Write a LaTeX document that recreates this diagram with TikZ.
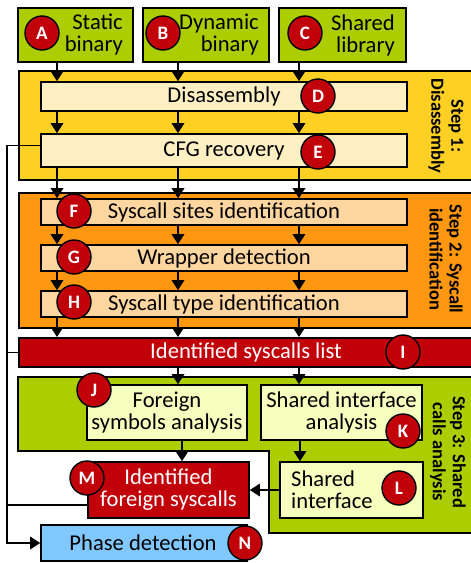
\documentclass[tikz,border=0pt]{standalone}
\usepackage{fontspec}
\setmainfont{Carlito}
\usetikzlibrary{arrows.meta}
\definecolor{grn}{RGB}{172,206,0}
\definecolor{yel}{RGB}{255,208,36}
\definecolor{lyel}{RGB}{255,240,196}
\definecolor{org}{RGB}{255,152,16}
\definecolor{peach}{RGB}{255,214,160}
\definecolor{dred}{RGB}{194,0,10}
\definecolor{pale}{RGB}{246,255,190}
\definecolor{lblue}{RGB}{128,200,255}
\tikzset{
  bx/.style={draw, line width=1.6pt, inner sep=0pt},
  txt/.style={font=\fontsize{22.6}{22}\selectfont, inner sep=0pt},
  lbl/.style={font=\bfseries\fontsize{18.5}{20}\selectfont, inner sep=0pt, align=center, rotate=-90},
  badge/.style={circle, draw, line width=1.4pt, fill=dred, minimum size=34pt, inner sep=0pt, text=white, font=\bfseries\fontsize{19}{19}\selectfont},
  arr/.style={line width=1.5pt, -{Triangle[length=10pt,width=12.5pt]}},
  ln/.style={line width=1.5pt}
}
\begin{document}
\begin{tikzpicture}[x=1pt,y=-1pt]
\useasboundingbox (0,0) rectangle (471,563);
\clip (0,0) rectangle (471,563);
\coordinate (c1) at (57,0);
\coordinate (c2) at (178,0);
\coordinate (c3) at (299,0);
\coordinate (c4) at (182,0);
\coordinate (c5) at (300,0);
\coordinate (lx) at (7,0);
% top inputs
\node[bx, fill=grn, minimum width=115pt, minimum height=54pt] (a) at (75.5,35) {};
\node[bx, fill=grn, minimum width=126pt, minimum height=54pt] (b) at (206,35) {};
\node[bx, fill=grn, minimum width=127pt, minimum height=54pt] (c) at (342.5,35) {};
\node[txt, align=right, anchor=east] (ta) at (123,35) {Static\\binary};
\node[txt, align=right, anchor=east] (tb) at (259,35) {Dynamic\\binary};
\node[txt, align=right, anchor=east] (tc) at (395,35) {Shared\\library};
% step 1
\node[bx, fill=yel, minimum width=480pt, minimum height=109pt, anchor=north west] (s1) at (18,70) {};
\node[bx, fill=lyel, minimum width=366pt, minimum height=29pt, txt] (dis) at (224,96.5) {Disassembly};
\node[bx, fill=lyel, minimum width=366pt, minimum height=33pt, txt] (cfg) at (224,150.5) {CFG recovery};
\node[lbl] (l1) at (446,126) {Step 1:\\Disassembly};
% step 2
\node[bx, fill=org, minimum width=480pt, minimum height=135pt, anchor=north west] (s2) at (18,192) {};
\node[bx, fill=peach, minimum width=366pt, minimum height=26pt, txt] (f) at (224,212) {Syscall sites identification};
\node[bx, fill=peach, minimum width=366pt, minimum height=26pt, txt] (g) at (224,258) {Wrapper detection};
\node[bx, fill=peach, minimum width=366pt, minimum height=26pt, txt] (h) at (224,304) {Syscall type identification};
\node[lbl] (l2) at (446,259) {Step 2: Syscall\\identification};
% list
\node[bx, fill=dred, minimum width=480pt, minimum height=29pt, anchor=north west] (list) at (18,337) {};
\node[txt, text=white] (tlist) at (246,352) {Identified syscalls list};
% step 3
\draw[line width=1.6pt, fill=grn] (18,377) -- (495,377) -- (495,533) -- (269,533) -- (269,451) -- (18,451) -- cycle;
\node[lbl] (l3) at (448,452) {Step 3: Shared\\calls analysis};
\node[bx, fill=pale, minimum width=160pt, minimum height=55pt, txt, align=center] (j) at (167,412.5) {Foreign\\symbols analysis};
\node[bx, fill=pale, minimum width=161pt, minimum height=55pt, txt, align=center] (k) at (341.5,412.5) {Shared interface\\analysis};
\node[bx, fill=pale, minimum width=143pt, minimum height=56pt] (l) at (351.5,490) {};
\node[txt, align=left, anchor=west] (tl) at (291,490) {Shared\\interface};
\node[bx, fill=dred, minimum width=161pt, minimum height=56pt, txt, align=center, text=white] (m) at (168.5,490) {Identified\\foreign syscalls};
\node[bx, fill=lblue, minimum width=206pt, minimum height=36pt, txt] (n) at (144,543) {\hspace*{-2pt}Phase detection};
% arrows
\foreach \s/\t in {a/dis, dis/cfg, cfg/f, f/g, g/h, h/list} {
  \draw[arr] (\s.south -| c1) -- (\t.north -| c1);
}
\foreach \s/\t in {b/dis, dis/cfg, cfg/f, f/g, g/h, h/list, list/j} {
  \draw[arr] (\s.south -| c2) -- (\t.north -| c2);
}
\foreach \s/\t in {c/dis, dis/cfg, cfg/f, f/g, g/h, h/list, list/k} {
  \draw[arr] (\s.south -| c3) -- (\t.north -| c3);
}
\draw[arr] (j.south -| c4) -- (m.north -| c4);
\draw[arr] (k.south -| c5) -- (l.north -| c5);
\draw[arr] (l.west) -- (m.east);
\draw[arr] ([yshift=5pt]cfg.west) -- ([yshift=5pt]cfg.west -| lx) -- (n.west -| lx) -- (n.west);
\draw[ln] (list.west) -- (list.west -| lx);
\draw[ln] ([yshift=-15pt]m.west) -- ([yshift=-15pt]m.west -| lx);
% badges
\node[badge] (ba) at (42,33) {A};
\node[badge] (bb) at (163,33) {B};
\node[badge] (bc) at (305,33) {C};
\node[badge] (bd) at (318,96) {D};
\node[badge] (be) at (318,152) {E};
\node[badge] (bf) at (74,211) {F};
\node[badge] (bg) at (74,257) {G};
\node[badge] (bh) at (74,302) {H};
\node[badge] (bi) at (403,352) {I};
\node[badge] (bj) at (94,390) {J};
\node[badge] (bk) at (403,431) {K};
\node[badge] (bl) at (399,488) {L};
\node[badge] (bm) at (87,478) {M};
\node[badge] (bn) at (245,543) {N};
\end{tikzpicture}
\end{document}
